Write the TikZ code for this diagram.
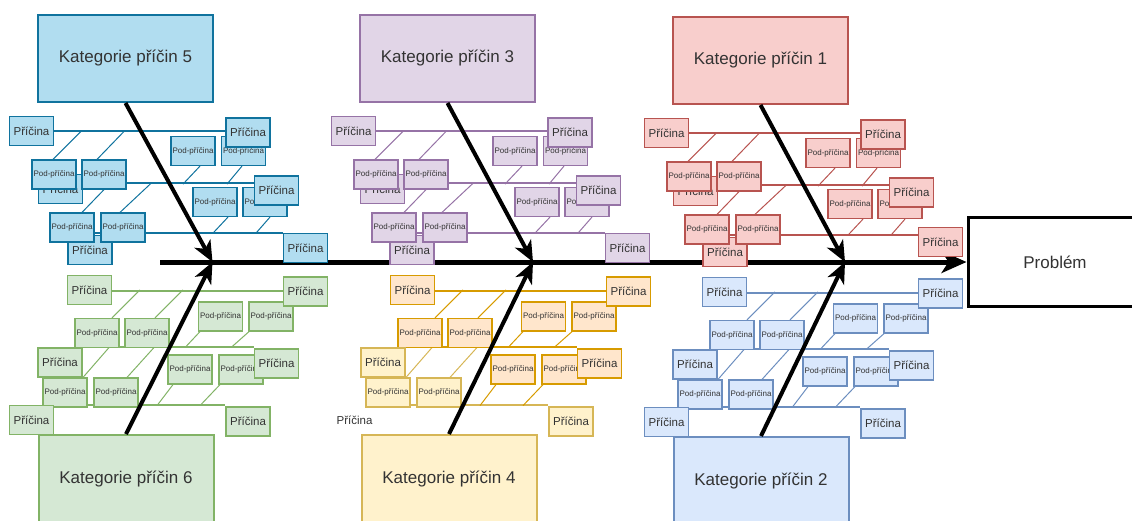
\documentclass[tikz,border=0pt]{standalone}
\usepackage{fontspec}
\setmainfont{Liberation Sans}
\usetikzlibrary{arrows.meta}

\definecolor{c5f}{HTML}{B1DDF0}\definecolor{c5d}{HTML}{10739E}
\definecolor{c3f}{HTML}{E1D5E7}\definecolor{c3d}{HTML}{9673A6}
\definecolor{c1f}{HTML}{F8CECC}\definecolor{c1d}{HTML}{B85450}
\definecolor{c6f}{HTML}{D5E8D4}\definecolor{c6d}{HTML}{82B366}
\definecolor{c4af}{HTML}{FFE6CC}\definecolor{c4ad}{HTML}{D79B00}
\definecolor{c4bf}{HTML}{FFF2CC}\definecolor{c4bd}{HTML}{D6B656}
\definecolor{c2f}{HTML}{DAE8FC}\definecolor{c2d}{HTML}{6C8EBF}
\definecolor{txt}{HTML}{333333}

\pgfdeclarelayer{bg}
\pgfsetlayers{bg,main}

\tikzset{
  catbox/.style={draw=#1d, fill=#1f, line width=2pt, minimum width=175pt,
    minimum height=87pt, inner sep=0pt, text=txt, font=\fontsize{17}{20}\selectfont},
  cause/.style={draw=#1d, fill=#1f, line width=1.4pt, minimum width=44pt,
    minimum height=29pt, inner sep=0pt, text=txt, font=\fontsize{11.5}{13}\selectfont},
  causetext/.style={minimum width=44pt, minimum height=29pt, inner sep=0pt,
    text=txt, font=\fontsize{11.5}{13}\selectfont},
  sub/.style={draw=#1d, fill=#1f, line width=1.2pt, minimum width=44pt,
    minimum height=29pt, inner sep=0pt, text=txt, font=\fontsize{8}{9}\selectfont},
  bone/.style={draw=#1d, line width=2pt},
  twig/.style={draw=#1d, line width=1pt},
  catarrow/.style={line width=4pt, -{Stealth[length=21pt,width=18pt,inset=6pt]}},
  spine/.style={line width=5pt, -{Stealth[length=25pt,width=22pt,inset=7pt]}},
  problem/.style={draw=black, fill=white, line width=3pt, minimum width=174pt,
    minimum height=89pt, inner sep=0pt, text=txt, font=\fontsize{17}{20}\selectfont}
}

% upper bone: #1 prefix, #2/#3 offset, #4 colour, #5 label,
% #6 height of the lowest right cause, #7 lift of the lowest line at that cause
\newcommand\topcat[7]{%
 \begin{scope}[shift={(#2,#3)}]
  \node[cause=#4] (#1p2l) at (60.5,189) {Příčina};
  \node[cause=#4] (#1p3l) at (90,250) {Příčina};
  \node[sub=#4] (#1a) at (54,174.5) {Pod-příčina};
  \node[sub=#4] (#1b) at (104,174.5) {Pod-příčina};
  \node[sub=#4] (#1c) at (72,227.5) {Pod-příčina};
  \node[sub=#4] (#1d) at (123,227.5) {Pod-příčina};
  \node[sub=#4] (#1g) at (193,151) {Pod-příčina};
  \node[sub=#4] (#1h) at (243.5,151) {Pod-příčina};
  \node[sub=#4] (#1e) at (215,202) {Pod-příčina};
  \node[sub=#4] (#1f) at (265,202) {Pod-příčina};
  \node[cause=#4] (#1p1l) at (31.5,131) {Příčina};
  \node[cause=#4] (#1p1r) at (248,132.5) {Příčina};
  \node[cause=#4] (#1p2r) at (276.5,190.5) {Příčina};
  \node[cause=#4] (#1p3r) at (305.5,#6) {Příčina};
  \node[catbox=#4] (#1cat) at (125.5,58.5) {#5};
  \begin{pgfonlayer}{bg}
   \draw[bone=#4] (#1p1l.east) -- ([yshift=1.5pt]#1p1r.west);
   \draw[bone=#4] ([yshift=6pt]#1p2l.east) -- ([yshift=7.5pt]#1p2r.west);
   \draw[bone=#4] ([yshift=17pt]#1p3l.center) -- ([yshift=#7]#1p3r.west);
   \draw[twig=#4] ([xshift=-1pt]#1a.north) -- ++(29,-29);
   \draw[twig=#4] ([xshift=-7pt]#1b.north) -- ++(28,-29);
   \draw[twig=#4] ([xshift=10pt]#1c.north) -- ++(29,-30);
   \draw[twig=#4] ([xshift=-3pt]#1d.north) -- ++(32,-30);
   \draw[twig=#4] ([xshift=7pt]#1g.south) -- ++(-17,18);
   \draw[twig=#4] ([xshift=-1.5pt]#1h.south) -- ++(-15,18);
   \draw[twig=#4] ([xshift=13pt]#1e.south) -- ++(-15,16);
   \draw[twig=#4] ([xshift=5pt]#1f.south) -- ++(-14,16);
  \end{pgfonlayer}
 \end{scope}}

% lower bone: #1 prefix, #2/#3 offset, #4 and #5 colours, #6 label,
% #7 style of the lowest left cause
\newcommand\botcat[7]{%
 \begin{scope}[shift={(#2,#3)}]
  \node[sub=#4] (#1i) at (97,333) {Pod-příčina};
  \node[sub=#4] (#1j) at (147,333) {Pod-příčina};
  \node[sub=#4] (#1k) at (220.5,316.5) {Pod-příčina};
  \node[sub=#4] (#1l) at (271,316.5) {Pod-příčina};
  \node[sub=#5] (#1m) at (65,392.5) {Pod-příčina};
  \node[sub=#5] (#1n) at (116,392.5) {Pod-příčina};
  \node[sub=#4] (#1o) at (190,369.5) {Pod-příčina};
  \node[sub=#4] (#1q) at (241,369.5) {Pod-příčina};
  \node[cause=#4] (#1p1l) at (89.5,290) {Příčina};
  \node[cause=#4] (#1p1r) at (305.5,291.5) {Příčina};
  \node[cause=#5] (#1p2l) at (60,362.5) {Příčina};
  \node[cause=#4] (#1p2r) at (276.5,363.5) {Příčina};
  \node[#7] (#1p3l) at (31.5,420) {Příčina};
  \node[cause=#5] (#1p3r) at (248,421.5) {Příčina};
  \node[catbox=#5] (#1cat) at (126,478.5) {#6};
  \begin{pgfonlayer}{bg}
   \draw[bone=#4] ([yshift=-1pt]#1p1l.east) -- ([yshift=0.5pt]#1p1r.west);
   \draw[bone=#4] ([yshift=15.5pt]#1p2l.east) -- ([yshift=16.5pt]#1p2r.west);
   \draw[bone=#5] ([yshift=15pt]#1p3l.east) -- ([yshift=16.5pt]#1p3r.west);
   \draw[twig=#4] ([xshift=15pt]#1i.north) -- ++(28,-28);
   \draw[twig=#4] ([xshift=8pt]#1j.north) -- ++(28,-28);
   \draw[twig=#4] ([xshift=-20.5pt]#1k.south) -- ++(-15,16);
   \draw[twig=#4] ([xshift=-22pt]#1l.south) -- ++(-18,16);
   \draw[twig=#5] ([xshift=18pt]#1m.north) -- ++(27,-31);
   \draw[twig=#5] ([xshift=11pt]#1n.north) -- ++(28,-31);
   \draw[twig=#4] ([xshift=-17pt]#1o.south) -- ++(-16,21);
   \draw[twig=#4] ([xshift=-21pt]#1q.south) -- ++(-20,21);
  \end{pgfonlayer}
 \end{scope}}

\begin{document}
\begin{tikzpicture}[x=1pt,y=-1pt]
\useasboundingbox (0,0) rectangle (1132,520);

% the problem and the main spine
\node[problem] (prob) at (1055,262) {Problém};
\coordinate (spine0) at (160,262);
\coordinate (j5) at (212.5,262);
\coordinate (j3) at (533,262);
\coordinate (j1) at (845,262);
\begin{pgfonlayer}{bg}
 \draw[spine] (spine0) -- (prob.west);
\end{pgfonlayer}

% upper bones
\topcat{t5}{0}{0}{c5}{Kategorie příčin 5}{248}{15pt}
\topcat{t3}{322}{0}{c3}{Kategorie příčin 3}{248}{15pt}
\topcat{t1}{635}{2}{c1}{Kategorie příčin 1}{240}{7pt}

% lower bones
\botcat{b6}{0}{0}{c6}{c6}{Kategorie příčin 6}{cause=c6}
\botcat{b4}{323}{0}{c4a}{c4b}{Kategorie příčin 4}{causetext}
\botcat{b2}{635}{2}{c2}{c2}{Kategorie příčin 2}{cause=c2}

% category arrows into the spine
\draw[catarrow] (t5cat.south) -- (j5);
\draw[catarrow] (t3cat.south) -- (j3);
\draw[catarrow] (t1cat.south) -- (j1);
\draw[catarrow] (b6cat.north) -- (j5);
\draw[catarrow] (b4cat.north) -- (j3);
\draw[catarrow] (b2cat.north) -- (j1);
\end{tikzpicture}
\end{document}
